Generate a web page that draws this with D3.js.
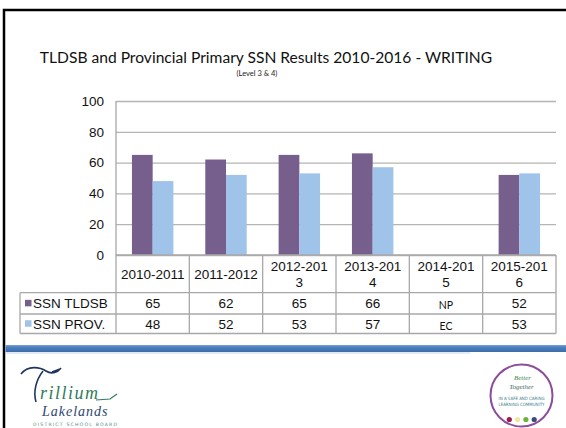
<!DOCTYPE html>
<html>
<head>
<meta charset="utf-8">
<script src="https://cdn.jsdelivr.net/npm/d3@7"></script>
<style>
  body { margin: 0; background: #fff; }
  svg { display: block; }
  .grid line { stroke: #b4b4b4; stroke-width: 1.3; }
  .grid text { font-family: "Liberation Sans", Arial, sans-serif; font-size: 13.5px; fill: #111; }
  .tbl { stroke: #a8a8a8; stroke-width: 1.3; }
  .cell { font-family: "Liberation Sans", Arial, sans-serif; font-size: 13.5px; fill: #111; }
</style>
</head>
<body>
<div id="chart"></div>
<script>
// data
var categories = ['2010-2011', '2011-2012', '2012-201\n3', '2013-201\n4', '2014-201\n5', '2015-201\n6'];
var series = ['SSN TLDSB', 'SSN PROV.'];
var tldsb = [65, 62, 65, 66, null, 52];
var prov = [48, 52, 53, 57, null, 53];
var tldsbCells = ['65', '62', '65', '66', 'NP', '52'];
var provCells = ['48', '52', '53', '57', 'EC', '53'];
var yTicks = [0, 20, 40, 60, 80, 100];

var W = 566, H = 428;
var colors = d3.scaleOrdinal().domain(series).range(['#775f8d', '#a0c3ea']);

var svg = d3.select('#chart').append('svg')
    .attr('width', W)
    .attr('height', H);

svg.append('rect').attr('width', W).attr('height', H).attr('fill', '#fff');

// slide frame
svg.append('path')
    .attr('d', 'M4,' + H + 'V10H' + W)
    .attr('fill', 'none')
    .attr('stroke', '#000')
    .attr('stroke-width', 2.5);

// titles
svg.append('text')
    .attr('x', 266).attr('y', 63)
    .attr('text-anchor', 'middle')
    .style('font-family', 'Lato, "Open Sans", sans-serif')
    .style('font-size', '15.6px')
    .attr('fill', '#111')
    .text('TLDSB and Provincial Primary SSN Results 2010-2016 - WRITING');

svg.append('text')
    .attr('x', 257).attr('y', 75.5)
    .attr('text-anchor', 'middle')
    .style('font-family', 'Lato, "Open Sans", sans-serif')
    .style('font-size', '7.5px')
    .attr('fill', '#222')
    .text('(Level 3 & 4)');

// scales
var x = d3.scaleBand()
    .domain(categories)
    .range([116, 556]);
var xs = d3.scaleBand()
    .domain(series)
    .range([0, x.bandwidth()])
    .paddingOuter(0.77);
var y = d3.scaleLinear()
    .domain([0, 100])
    .range([255, 101]);

// gridlines + y labels
var grid = svg.append('g')
    .attr('class', 'grid')
    .attr('transform', 'translate(116,0)')
    .call(d3.axisLeft(y).tickValues(yTicks).tickSize(-440).tickPadding(12));
grid.select('.domain').remove();

// vertical axis line
svg.append('line').attr('class', 'tbl')
    .attr('x1', 116).attr('x2', 116)
    .attr('y1', y(100)).attr('y2', 255);

// bars
var rows = categories.map(function(c, i) {
  return { cat: c, 'SSN TLDSB': tldsb[i], 'SSN PROV.': prov[i] };
});

var groups = svg.selectAll('.cat')
    .data(rows)
  .enter().append('g')
    .attr('class', 'cat')
    .attr('transform', function(d) { return 'translate(' + x(d.cat) + ',0)'; });

groups.selectAll('rect')
    .data(function(d) {
      return series.map(function(s) { return { key: s, value: d[s] }; })
        .filter(function(e) { return e.value != null; });
    })
  .enter().append('rect')
    .attr('x', function(d) { return xs(d.key); })
    .attr('width', xs.bandwidth())
    .attr('y', function(d) { return y(d.value); })
    .attr('height', function(d) { return y(0) - y(d.value); })
    .attr('fill', function(d) { return colors(d.key); });

// data table
var rowY = [255, 292.7, 314, 333.5];

svg.append('line').attr('class', 'tbl')
    .attr('x1', 116).attr('x2', 556).attr('y1', rowY[0]).attr('y2', rowY[0]);
[1, 2, 3].forEach(function(r) {
  svg.append('line').attr('class', 'tbl')
      .attr('x1', 20).attr('x2', 556).attr('y1', rowY[r]).attr('y2', rowY[r]);
});
svg.append('line').attr('class', 'tbl')
    .attr('x1', 20).attr('x2', 20).attr('y1', rowY[1]).attr('y2', rowY[3]);

var edges = categories.map(function(c) { return x(c); }).concat([x.range()[1]]);
svg.selectAll('.vline')
    .data(edges)
  .enter().append('line')
    .attr('class', 'tbl')
    .attr('x1', function(d) { return d; })
    .attr('x2', function(d) { return d; })
    .attr('y1', rowY[0])
    .attr('y2', rowY[3]);

// category labels
svg.selectAll('.catlabel')
    .data(categories)
  .enter().append('text')
    .attr('class', 'cell')
    .attr('text-anchor', 'middle')
    .each(function(d) {
      var lines = d.split('\n');
      var cx = x(d) + x.bandwidth() / 2;
      var mid = (rowY[0] + rowY[1]) / 2;
      var t = d3.select(this);
      lines.forEach(function(l, i) {
        t.append('tspan')
          .attr('x', cx)
          .attr('y', mid + 5 + (i - (lines.length - 1) / 2) * 16.5)
          .text(l);
      });
    });

// value rows
function valueRow(cells, r) {
  svg.selectAll('.row' + r)
      .data(cells)
    .enter().append('text')
      .attr('class', 'cell')
      .attr('text-anchor', 'middle')
      .attr('x', function(d, i) { return x(categories[i]) + x.bandwidth() / 2; })
      .attr('y', function(d) { return (rowY[r] + rowY[r + 1]) / 2 + (isNaN(+d) ? 6 : 5); })
      .style('font-family', function(d) { return isNaN(+d) ? 'Lato, sans-serif' : null; })
      .style('font-size', function(d) { return isNaN(+d) ? '10.5px' : null; })
      .text(function(d) { return d; });
}
valueRow(tldsbCells, 1);
valueRow(provCells, 2);

// legend keys in table
series.forEach(function(s, i) {
  var cy = (rowY[i + 1] + rowY[i + 2]) / 2;
  svg.append('rect')
      .attr('x', 25).attr('y', cy - 3.5)
      .attr('width', 6.5).attr('height', 6.5)
      .attr('fill', colors(s));
  svg.append('text')
      .attr('class', 'cell')
      .attr('x', 33).attr('y', cy + 5)
      .text(s);
});

// blue footer band
var grad = svg.append('defs').append('linearGradient')
    .attr('id', 'band').attr('x1', 0).attr('x2', 0).attr('y1', 0).attr('y2', 1);
grad.append('stop').attr('offset', 0).attr('stop-color', '#7aa4d6');
grad.append('stop').attr('offset', 0.3).attr('stop-color', '#4d80bf');
grad.append('stop').attr('offset', 1).attr('stop-color', '#3c6ead');
svg.append('rect')
    .attr('x', 5.5).attr('y', 345)
    .attr('width', W - 5.5).attr('height', 7)
    .attr('fill', 'url(#band)');
svg.append('line')
    .attr('x1', 5.5).attr('x2', 470).attr('y1', 353).attr('y2', 353)
    .attr('stroke', '#c5d5ea').attr('stroke-width', 1);

// Trillium Lakelands logo
var logo = svg.append('g');
logo.append('path')
    .attr('d', 'M21,374 C28,365 40,367 46,371 C52,375 58,372 61,368 M60,369 L52,372 M43,371 C36,380 33,392 36,402')
    .attr('fill', 'none')
    .attr('stroke', '#1f3561')
    .attr('stroke-width', 1.6);
logo.append('text')
    .attr('x', 40).attr('y', 399)
    .style('font-family', '"Liberation Serif", serif')
    .style('font-style', 'italic')
    .style('font-size', '18px')
    .style('letter-spacing', '1.5px')
    .attr('fill', '#2f7a5a')
    .text('rillium');
logo.append('path')
    .attr('d', 'M96,400 L110,399 L117,394')
    .attr('fill', 'none').attr('stroke', '#2f7a5a').attr('stroke-width', 1.2);
logo.append('text')
    .attr('x', 42).attr('y', 416)
    .style('font-family', '"Liberation Serif", serif')
    .style('font-style', 'italic')
    .style('font-size', '14px')
    .style('letter-spacing', '1px')
    .attr('fill', '#2b4572')
    .text('Lakelands');
logo.append('text')
    .attr('x', 33).attr('y', 425.5)
    .style('font-family', '"DejaVu Sans", sans-serif')
    .style('font-size', '4.6px')
    .style('letter-spacing', '1.2px')
    .attr('fill', '#4f8f86')
    .text('DISTRICT SCHOOL BOARD');

// Better Together badge
var badge = svg.append('g').attr('transform', 'translate(521.5,395.5)');
badge.append('circle')
    .attr('r', 31)
    .attr('fill', '#fff')
    .attr('stroke', '#8c4e9c')
    .attr('stroke-width', 2);
badge.append('text')
    .attr('y', -15.5).attr('x', 1).attr('text-anchor', 'middle')
    .style('font-family', '"Liberation Serif", serif').style('font-style', 'italic')
    .style('font-size', '7px').attr('fill', '#3a8a4a')
    .text('Better');
badge.append('text')
    .attr('y', -6.5).attr('text-anchor', 'middle')
    .style('font-family', '"Liberation Serif", serif').style('font-style', 'italic')
    .style('font-size', '7px').attr('fill', '#3a6a5a')
    .text('Together');
badge.append('text')
    .attr('y', 4).attr('text-anchor', 'middle')
    .style('font-family', '"DejaVu Sans Condensed", sans-serif')
    .style('font-size', '4.4px').attr('fill', '#3d7d8d')
    .text('IN A SAFE AND CARING');
badge.append('text')
    .attr('y', 10).attr('text-anchor', 'middle')
    .style('font-family', '"DejaVu Sans Condensed", sans-serif')
    .style('font-size', '4.4px').attr('fill', '#3d7d8d')
    .text('LEARNING COMMUNITY');
badge.selectAll('.dot')
    .data(['#9b1b4f', '#efe6a0', '#6bb33f', '#3e4a7c'])
  .enter().append('circle')
    .attr('cx', function(d, i) { return -12.2 + i * 8.3; })
    .attr('cy', 24)
    .attr('r', 2.6)
    .attr('fill', function(d) { return d; });
</script>
</body>
</html>
